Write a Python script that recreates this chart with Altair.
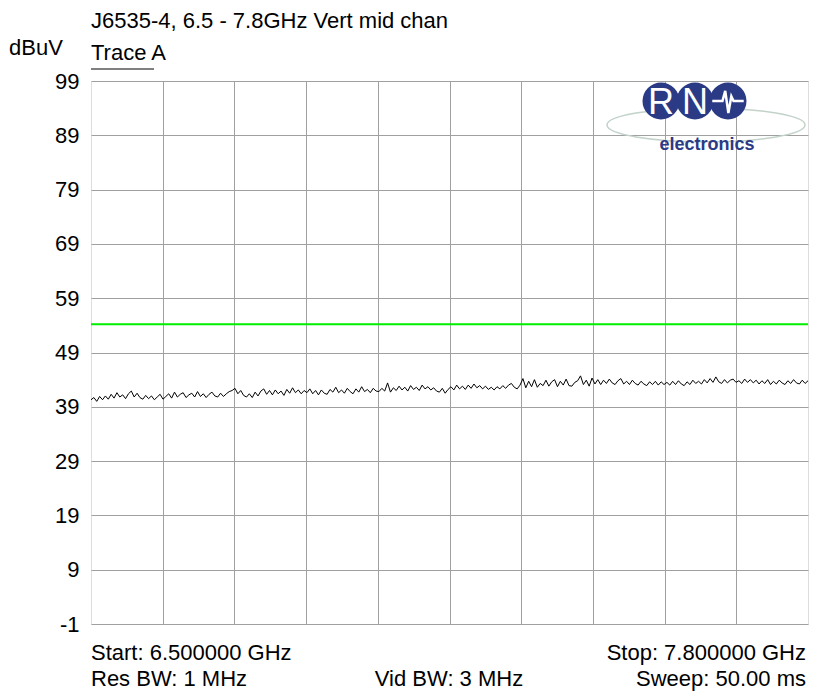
import altair as alt
import pandas as pd

# ---- data ----
start_ghz = 6.5
stop_ghz = 7.8
limit_dbuv = 54.2
y_ticks = [-1, 9, 19, 29, 39, 49, 59, 69, 79, 89, 99]
x_grid = [6.63, 6.76, 6.89, 7.02, 7.15, 7.28, 7.41, 7.54, 7.67]

trace_a = [
    40.3, 40.7, 40.0, 40.9, 40.3, 41.0, 40.4, 41.3, 40.6, 41.6, 40.8, 41.2, 40.5, 41.4, 41.9, 40.8, 41.5, 40.7, 40.4, 41.1, 40.5, 41.0, 40.3, 40.8, 41.3,
    40.4, 40.9, 41.4, 40.6, 41.7, 40.8, 41.3, 41.6, 40.7, 41.2, 41.5, 40.8, 41.8, 40.9, 41.4, 40.7, 41.3, 41.7, 41.0, 40.8, 41.5, 40.9, 41.4, 41.8, 42.0,
    42.4, 41.4, 42.0, 41.1, 40.8, 41.4, 40.7, 41.7, 41.0, 41.9, 42.3, 41.3, 42.0, 41.2, 42.1, 41.4, 41.9, 41.1, 42.2, 41.5, 42.5, 41.6, 42.1, 41.4, 42.0,
    41.6, 42.3, 41.4, 42.0, 41.2, 42.1, 41.5, 41.3, 42.2, 41.7, 42.6, 41.6, 42.1, 41.5, 42.4, 41.8, 41.4, 42.3, 41.7, 42.7, 41.8, 42.2, 41.6, 42.4, 41.9,
    41.8, 42.4, 41.9, 43.4, 41.7, 42.5, 42.0, 42.8, 42.1, 42.6, 41.9, 42.9, 42.2, 42.6, 42.0, 43.0, 42.3, 42.7, 42.1, 42.5, 41.9, 41.7, 42.4, 41.5, 42.2,
    42.7, 42.1, 43.0, 42.3, 42.8, 42.2, 43.0, 42.4, 43.2, 42.5, 42.9, 42.3, 42.8, 42.2, 42.6, 42.1, 42.7, 42.3, 42.9, 42.4, 43.0, 43.3, 42.6, 42.3, 43.0,
    44.2, 42.5, 43.7, 42.7, 44.0, 42.6, 43.3, 42.9, 43.9, 42.8, 43.6, 44.0, 42.7, 43.7, 43.0, 44.1, 42.9, 42.8, 43.5, 43.8, 44.7, 43.1, 43.9, 42.8, 44.3,
    43.2, 44.0, 43.1, 43.9, 43.3, 44.1, 43.4, 43.1, 43.8, 44.2, 43.2, 43.7, 43.1, 43.9, 43.3, 43.0, 43.7, 43.2, 42.9, 43.6, 43.1, 43.7, 43.0, 43.6, 43.1,
    43.5, 43.0, 43.7, 43.1, 43.8, 43.2, 42.9, 43.6, 43.1, 43.9, 43.3, 43.7, 43.2, 44.0, 43.4, 44.2, 43.5, 44.5, 43.6, 43.3, 44.0, 43.4, 43.9, 44.1, 43.5,
    43.8, 43.3, 44.1, 43.5, 44.0, 43.4, 43.9, 43.2, 43.8, 43.3, 44.0, 43.1, 43.7, 43.2, 43.9, 43.4, 43.1, 43.8, 43.3, 44.0, 43.4, 43.2, 43.9, 43.3, 43.8,
]

title_text = "J6535-4, 6.5 - 7.8GHz Vert mid chan"
unit_text = "dBuV"
trace_label = "Trace A"
footer_left = ["Start: 6.500000 GHz", "Res BW: 1 MHz"]
footer_mid = ["", "Vid BW: 3 MHz"]
footer_right = ["Stop: 7.800000 GHz", "Sweep: 50.00 ms"]

W, H = 717, 543
FONT = "Liberation Sans"
FS = 22

n = len(trace_a)
step = (stop_ghz - start_ghz) / (n - 1)
df = pd.DataFrame({"f": [start_ghz + i * step for i in range(n)], "v": trace_a})

xs = alt.Scale(domain=[start_ghz, stop_ghz], nice=False, zero=False)
ys = alt.Scale(domain=[-1, 99], nice=False, zero=False)

x_axis = alt.Axis(values=x_grid, labels=False, ticks=False, title=None, domain=False,
                  grid=True, gridColor="#a0a0a0", gridWidth=1, gridOpacity=1)
y_axis = alt.Axis(values=y_ticks, ticks=False, title=None, domain=False, grid=True,
                  gridColor="#a0a0a0", gridWidth=1, gridOpacity=1,
                  labelExpr="'' + datum.value",
                  labelFont=FONT, labelFontSize=FS, labelColor="#000000", labelPadding=12)

grid = alt.Chart(pd.DataFrame({"f": [start_ghz], "v": [-1]})).mark_point(opacity=0).encode(
    x=alt.X("f:Q", scale=xs, axis=x_axis),
    y=alt.Y("v:Q", scale=ys, axis=y_axis),
)

trace = alt.Chart(df).mark_line(color="#000000", strokeWidth=1).encode(
    x=alt.X("f:Q", scale=xs),
    y=alt.Y("v:Q", scale=ys),
)

limit = alt.Chart(pd.DataFrame({"v": [limit_dbuv]})).mark_rule(color="#00ee00", strokeWidth=2).encode(
    y=alt.Y("v:Q", scale=ys)
)

# ---- logo (decoration) ----
navy = "#2b3a85"
ellipse = alt.Chart(pd.DataFrame({"a": [0]})).mark_point(
    shape="M-1,0 A1,0.17 0 1,0 1,0 A1,0.17 0 1,0 -1,0 Z", size=39200,
    filled=False, stroke="#c3d3ca", strokeWidth=1.5, opacity=1
).encode(x=alt.value(615), y=alt.value(44))
circles = alt.Chart(pd.DataFrame({"cx": [570, 604, 637]})).mark_point(
    shape="circle", size=1370, filled=True, color=navy, opacity=1
).encode(x=alt.X("cx:Q", scale=None), y=alt.value(20))
letters = alt.Chart(pd.DataFrame({"cx": [570, 604], "t": ["R", "N"]})).mark_text(
    font=FONT, fontSize=36, color="#ffffff", baseline="middle", align="center", dy=2
).encode(x=alt.X("cx:Q", scale=None), y=alt.value(20), text="t:N")
pulse = alt.Chart(pd.DataFrame({"a": [0]})).mark_point(
    shape="M-0.85,0 L-0.3,0 L-0.15,-0.55 L0.02,0.65 L0.18,-0.25 L0.3,0 L0.85,0",
    size=1370, filled=False, stroke="#ffffff", strokeWidth=2.5, opacity=1
).encode(x=alt.value(637), y=alt.value(20))
elec = alt.Chart(pd.DataFrame({"t": ["electronics"]})).mark_text(
    font=FONT, fontSize=18, fontWeight="bold", color=navy, baseline="middle", align="center"
).encode(x=alt.value(616), y=alt.value(64), text="t:N")

# ---- texts around the plot ----
def label(txt, x, y, align="left", baseline="middle"):
    return alt.Chart(pd.DataFrame({"t": [txt]})).mark_text(
        font=FONT, fontSize=FS, color="#000000", baseline=baseline, align=align
    ).encode(x=alt.value(x), y=alt.value(y), text="t:N")

texts = [
    label(title_text, 0, -60),
    label(unit_text, -82, -33),
    label(trace_label, 0, -28),
    label(footer_left[0], 0, H + 36, baseline="alphabetic"),
    label(footer_left[1], 0, H + 62, baseline="alphabetic"),
    label(footer_mid[1], 358, H + 62, "center", baseline="alphabetic"),
    label(footer_right[0], W - 2, H + 36, "right", baseline="alphabetic"),
    label(footer_right[1], W - 2, H + 62, "right", baseline="alphabetic"),
]
underline = alt.Chart(pd.DataFrame({"a": [0]})).mark_rule(color="#000000", strokeWidth=1).encode(
    x=alt.value(0), x2=alt.value(63), y=alt.value(-12)
)

chart = alt.layer(grid, limit, trace, ellipse, circles, letters, pulse, elec, underline, *texts).properties(
    width=W, height=H,
    autosize=alt.AutoSizeParams(type="none"),
    padding={"left": 83, "top": 73, "right": 1, "bottom": 67},
).configure_view(stroke="#000000", strokeWidth=2).configure(background="#ffffff")

chart.save("out.html", embed_options={"renderer": "svg", "actions": False})
